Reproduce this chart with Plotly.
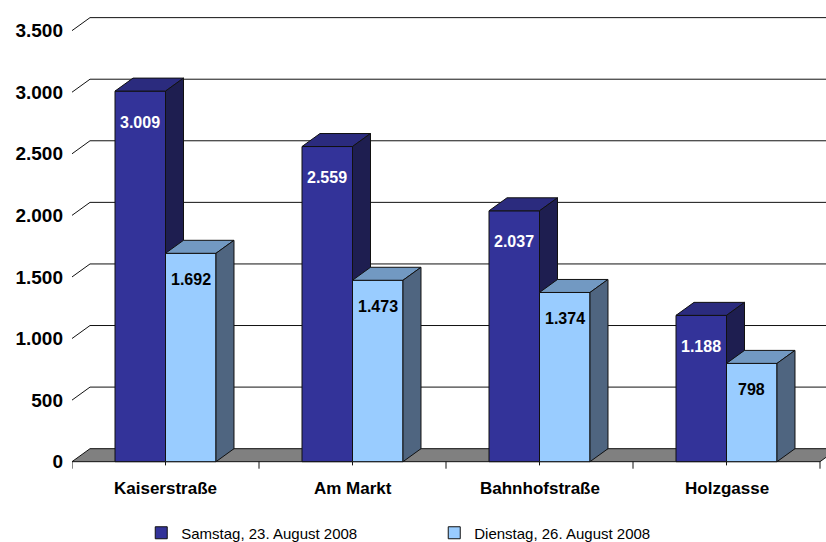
import plotly.graph_objects as go

categories = ["Kaiserstraße", "Am Markt", "Bahnhofstraße", "Holzgasse"]
series_names = ["Samstag, 23. August 2008", "Dienstag, 26. August 2008"]
samstag = [3009, 2559, 2037, 1188]
dienstag = [1692, 1473, 1374, 798]
y_ticks = [0, 500, 1000, 1500, 2000, 2500, 3000, 3500]
y_tick_labels = ["0", "500", "1.000", "1.500", "2.000", "2.500", "3.000", "3.500"]

FONT = "Arial, Liberation Sans, sans-serif"
# styling / geometry (in axis units)
BAR_W = 0.27
DX = 18 / 187.0
DV = 105.6
front_cols = ["#333399", "#99CCFF"]
top_cols = ["#2B2B7E", "#7299C2"]
side_cols = ["#1E1E50", "#4F6580"]
label_cols = ["white", "black"]
label_shift = [-31, -26]

XMIN, XMAX = -0.5, -0.5 + 754 / 187.0
YMIN, YMAX = -100, 3700

def fmt(v):
    return f"{v:,}".replace(",", ".")

fig = go.Figure()

# gridlines (diagonal on side wall + horizontal on back wall)
gx, gy = [], []
for v in y_ticks[1:]:
    gx += [-0.5, -0.5 + DX, XMAX + 1, None]
    gy += [v, v + DV, v + DV, None]
fig.add_trace(go.Scatter(x=gx, y=gy, mode="lines", line=dict(color="#111111", width=1),
                         hoverinfo="skip", showlegend=False))

# floor
n = len(categories)
fig.add_trace(go.Scatter(
    x=[-0.5, n - 0.5, n - 0.5 + DX, -0.5 + DX, -0.5],
    y=[0, 0, DV, DV, 0], mode="lines", fill="toself", fillcolor="#808080",
    line=dict(color="#111111", width=1), hoverinfo="skip", showlegend=False))

# axis ticks below floor
tx, ty = [], []
for i in range(n + 1):
    tx += [i - 0.5, i - 0.5, None]
    ty += [0, -57, None]
for i in range(n):
    tx += [i, i, None]
    ty += [0, -30, None]
fig.add_trace(go.Scatter(x=tx, y=ty, mode="lines", line=dict(color="#111111", width=1),
                         hoverinfo="skip", showlegend=False))

def poly(xs, ys, color):
    fig.add_trace(go.Scatter(x=xs + [xs[0]], y=ys + [ys[0]], mode="lines", fill="toself",
                             fillcolor=color, line=dict(color="#111111", width=1),
                             hoverinfo="skip", showlegend=False))

annotations = []
for i in range(n):
    for s, vals in enumerate([samstag, dienstag]):
        v = vals[i]
        x0 = i - BAR_W + s * BAR_W
        x1 = x0 + BAR_W
        # front
        poly([x0, x1, x1, x0], [0, 0, v, v], front_cols[s])
        # top
        poly([x0, x1, x1 + DX, x0 + DX], [v, v, v + DV, v + DV], top_cols[s])
        # side
        poly([x1, x1 + DX, x1 + DX, x1], [0, DV, v + DV, v], side_cols[s])
        annotations.append(dict(x=(x0 + x1) / 2, y=v, xref="x", yref="y", text=fmt(v),
                                showarrow=False, yshift=label_shift[s], yanchor="middle",
                                font=dict(family=FONT, size=16, color=label_cols[s], weight="bold")))
    annotations.append(dict(x=i, y=0, xref="x", yref="y", text=categories[i], showarrow=False,
                            yshift=-27, yanchor="middle",
                            font=dict(family=FONT, size=17, color="black", weight="bold")))

# legend entries
for s in range(2):
    fig.add_trace(go.Bar(x=[None], y=[None], name=series_names[s],
                         marker=dict(color=front_cols[s], line=dict(color="#111111", width=1))))

fig.update_layout(
    width=826, height=542,
    margin=dict(l=72, r=0, t=6, b=68, autoexpand=False),
    paper_bgcolor="white", plot_bgcolor="white",
    xaxis=dict(range=[XMIN, XMAX], visible=False, fixedrange=True),
    yaxis=dict(range=[YMIN, YMAX], tickvals=y_ticks, ticktext=y_tick_labels, showgrid=False,
               zeroline=False, showline=False, ticks="", ticklabelstandoff=8, automargin=False,
               fixedrange=True,
               tickfont=dict(family=FONT, size=19, color="black", weight="bold")),
    showlegend=True,
    legend=dict(orientation="h", xref="container", yref="container",
                x=0.171, xanchor="left", y=0.0166, yanchor="middle",
                entrywidth=248, entrywidthmode="pixels", itemwidth=30,
                font=dict(family=FONT, size=15, color="black")),
    annotations=annotations,
)

fig.write_html("out.html", config={"displayModeBar": False},
               post_script="document.body.style.margin='0';document.body.style.overflow='hidden';")
